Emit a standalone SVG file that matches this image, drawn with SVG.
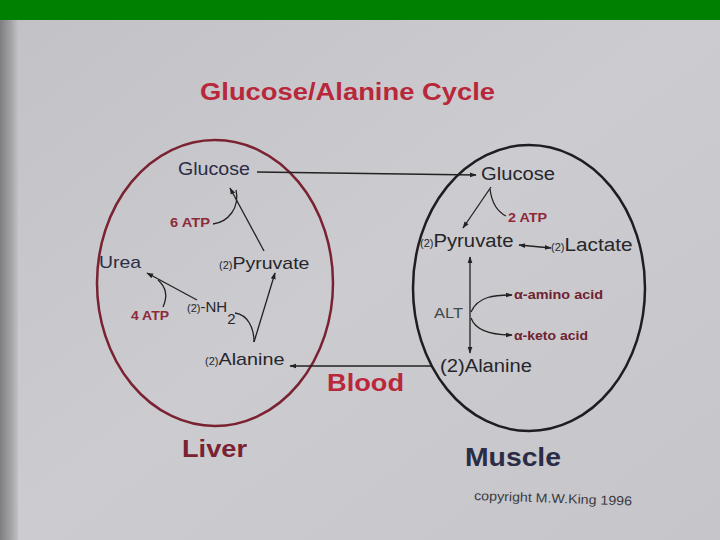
<svg xmlns="http://www.w3.org/2000/svg" width="720" height="540" viewBox="0 0 720 540">
<defs>
<linearGradient id="bg" x1="0" y1="0" x2="1" y2="1">
<stop offset="0" stop-color="#c2c1c6"/><stop offset="0.5" stop-color="#cccbd0"/><stop offset="1" stop-color="#c6c5ca"/>
</linearGradient>
<linearGradient id="edge" x1="0" y1="0" x2="1" y2="0">
<stop offset="0" stop-color="#7e7d80"/><stop offset="0.6" stop-color="#a3a2a6"/><stop offset="1" stop-color="#c1c0c5"/>
</linearGradient>
<marker id="ah" viewBox="0 0 10 10" refX="9" refY="5" markerWidth="7" markerHeight="7" orient="auto-start-reverse" markerUnits="userSpaceOnUse">
<path d="M0,1.5 L10,5 L0,8.5 Z" fill="#222"/>
</marker>
<style>
.t{font-family:"Liberation Sans",Arial,sans-serif}
.navy{fill:#2b2d46}
.dk{fill:#26262b}
.red{fill:#b8283a}
.atp{fill:#8e2a38;font-weight:bold;font-size:12px}
.aa{fill:#6e2230;font-weight:bold;font-size:13px}
.sm{font-size:11px}
.ln{stroke:#222;stroke-width:1.3;fill:none}
</style>
</defs>
<rect width="720" height="540" fill="url(#bg)"/>
<rect x="0" y="20" width="18" height="520" fill="url(#edge)"/>
<rect x="0" y="0" width="720" height="20" fill="#008000"/>

<text class="t red" x="200" y="100" font-size="23" font-weight="bold" textLength="295" lengthAdjust="spacingAndGlyphs">Glucose/Alanine Cycle</text>

<g id="liver">
<ellipse cx="215" cy="283" rx="118" ry="143" fill="none" stroke="#7a2232" stroke-width="2.5"/>
<text class="t" x="182" y="457" font-size="24" font-weight="bold" fill="#7a2232" textLength="65" lengthAdjust="spacingAndGlyphs">Liver</text>
</g>
<g id="muscle">
<ellipse cx="529" cy="288" rx="116" ry="143" fill="none" stroke="#1e1e22" stroke-width="2.5"/>
<text class="t navy" x="465" y="466" font-size="25" font-weight="bold" textLength="96" lengthAdjust="spacingAndGlyphs">Muscle</text>
</g>

<g id="liver-glucose"><text class="t navy" x="178" y="175" font-size="18" textLength="72" lengthAdjust="spacingAndGlyphs">Glucose</text></g>
<g id="liver-6atp"><text class="t atp" x="170" y="227" textLength="40" lengthAdjust="spacingAndGlyphs">6 ATP</text></g>
<g id="liver-urea"><text class="t navy" x="99" y="268" font-size="17" textLength="42" lengthAdjust="spacingAndGlyphs">Urea</text></g>
<g id="liver-pyruvate"><text class="t dk" x="219" y="269" font-size="17"><tspan class="sm">(2)</tspan><tspan textLength="77" lengthAdjust="spacingAndGlyphs">Pyruvate</tspan></text></g>
<g id="liver-4atp"><text class="t atp" x="131" y="320" textLength="38" lengthAdjust="spacingAndGlyphs">4 ATP</text></g>
<g id="liver-nh2"><text class="t dk" x="187" y="312" font-size="15"><tspan class="sm">(2)</tspan>-NH<tspan font-size="15" dy="12">2</tspan></text></g>
<g id="liver-alanine"><text class="t dk" x="205" y="365" font-size="17"><tspan class="sm">(2)</tspan><tspan textLength="66" lengthAdjust="spacingAndGlyphs">Alanine</tspan></text></g>
<g id="blood"><text class="t red" x="327" y="391" font-size="23" font-weight="bold" textLength="77" lengthAdjust="spacingAndGlyphs">Blood</text></g>

<g id="muscle-glucose"><text class="t dk" x="481" y="180" font-size="18" textLength="74" lengthAdjust="spacingAndGlyphs">Glucose</text></g>
<g id="muscle-2atp"><text class="t atp" x="508" y="222" textLength="39" lengthAdjust="spacingAndGlyphs">2 ATP</text></g>
<g id="muscle-pyruvate"><text class="t dk" x="420" y="247" font-size="18"><tspan class="sm">(2)</tspan><tspan textLength="80" lengthAdjust="spacingAndGlyphs">Pyruvate</tspan></text></g>
<g id="muscle-lactate"><text class="t dk" x="551" y="251" font-size="18"><tspan class="sm">(2)</tspan><tspan textLength="68" lengthAdjust="spacingAndGlyphs">Lactate</tspan></text></g>
<g id="muscle-alt"><text class="t" x="434" y="318" font-size="15" fill="#3e4a4c" textLength="29" lengthAdjust="spacingAndGlyphs">ALT</text></g>
<g id="muscle-amino"><text class="t aa" x="514" y="299" textLength="89" lengthAdjust="spacingAndGlyphs">α-amino acid</text></g>
<g id="muscle-keto"><text class="t aa" x="514" y="340" textLength="74" lengthAdjust="spacingAndGlyphs">α-keto acid</text></g>
<g id="muscle-alanine"><text class="t dk" x="440" y="372" font-size="18" textLength="92" lengthAdjust="spacingAndGlyphs">(2)Alanine</text></g>
<g id="copyright"><text class="t" x="474" y="500" font-size="13" fill="#3a3a40" transform="rotate(2 474 500)" textLength="158" lengthAdjust="spacingAndGlyphs">copyright M.W.King 1996</text></g>

<g id="connectors">
<line class="ln" x1="257" y1="172" x2="476" y2="175" marker-end="url(#ah)"/>
<line class="ln" x1="432" y1="366" x2="290" y2="366" marker-end="url(#ah)"/>
<line class="ln" x1="264" y1="251" x2="230" y2="188" marker-end="url(#ah)"/>
<path class="ln" d="M213,224 C228,222 240,208 236,190"/>
<line class="ln" x1="197" y1="300" x2="147" y2="273" marker-end="url(#ah)"/>
<path class="ln" d="M163,307 C168,296 166,287 158,280"/>
<line class="ln" x1="254" y1="342" x2="275" y2="273" marker-end="url(#ah)"/>
<path class="ln" d="M235,313 C248,315 254,328 254,342"/>
<line class="ln" x1="491" y1="187" x2="463" y2="228" marker-end="url(#ah)"/>
<path class="ln" d="M490,189 C492,205 498,212 506,216"/>
<line class="ln" x1="519" y1="245" x2="551" y2="248" marker-start="url(#ah)" marker-end="url(#ah)"/>
<line class="ln" x1="470" y1="257" x2="470" y2="353" marker-start="url(#ah)" marker-end="url(#ah)"/>
<path class="ln" d="M471,312 C478,296 495,295 512,295" marker-end="url(#ah)"/>
<path class="ln" d="M471,318 C476,332 495,335 512,335" marker-end="url(#ah)"/>
</g>
</svg>
